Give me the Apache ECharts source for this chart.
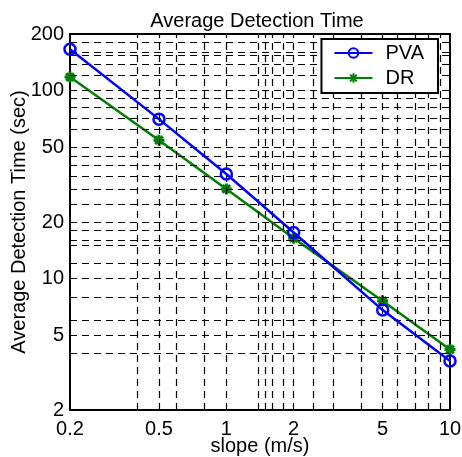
<!DOCTYPE html>
<html>
<head>
<meta charset="utf-8">
<script src="https://cdn.jsdelivr.net/npm/echarts@6/dist/echarts.min.js"></script>
<style>html,body{margin:0;padding:0;background:#fff}#c{width:462px;height:457px}</style>
</head>
<body>
<div id="c"></div>
<script>
var slopes = [0.2, 0.5, 1, 2, 5, 10];
var pvaTimes = [166, 70.5, 36, 17.6, 6.8, 3.65];
var drTimes = [118, 54.5, 30, 16.4, 7.6, 4.2];
var xTickLabels = [0.2, 0.5, 1, 2, 5, 10];
var yTickLabels = [2, 5, 10, 20, 50, 100, 200];
var xGridValues = [0.4, 0.5, 0.6, 0.8, 1, 1.39, 1.49, 1.6, 1.79, 2, 2.44, 3, 4, 5, 5.8, 7, 8, 9];
var yGridValues = [4, 5, 6, 8, 10, 12, 15, 16, 18, 20, 25, 30, 35, 40, 45, 50, 62, 71, 82, 91, 100, 121, 138, 155, 160, 181];

var FONT = 'Liberation Sans';
var chart = echarts.init(document.getElementById('c'), null, {renderer: 'canvas'});
var gridLine = {type: [7, 5], color: '#000', width: 1.2, opacity: 1};
var gridMarks = [];
xGridValues.forEach(function (v) { gridMarks.push({xAxis: v}); });
yGridValues.forEach(function (v) { gridMarks.push({yAxis: v}); });

var asterisk = 'path://M5,0L5,10M0,5L10,5M1.5,1.5L8.5,8.5M8.5,1.5L1.5,8.5';

function fmt(v) { return String(Math.round(v * 10) / 10); }

chart.setOption({
  animation: false,
  backgroundColor: '#fff',
  title: {
    text: 'Average Detection Time',
    left: 252, top: 6, textAlign: 'center',
    textStyle: {fontFamily: FONT, fontSize: 20, fontWeight: 'normal', color: '#000'}
  },
  grid: {left: 70, right: 12, top: 34, bottom: 47, containLabel: false, outerBoundsMode: 'none',
    show: true, borderColor: '#000', borderWidth: 2, backgroundColor: 'transparent'},
  legend: {
    right: 24, top: 39, z: 20,
    orient: 'vertical',
    itemWidth: 38, itemHeight: 12, itemGap: 5,
    padding: [4, 14, 5, 12],
    backgroundColor: '#fff', borderColor: '#000', borderWidth: 2,
    textStyle: {fontFamily: FONT, fontSize: 20, color: '#000', padding: [0, 0, 0, 8]},
    data: ['PVA', 'DR']
  },
  xAxis: {
    type: 'log', logBase: 10, min: 0.2, max: 10,
    name: 'slope (m/s)', nameLocation: 'middle', nameGap: 26, nameMoveOverlap: false,
    nameTextStyle: {fontFamily: FONT, fontSize: 20, color: '#000'},
    axisLine: {show: true, lineStyle: {color: '#000', width: 2}},
    axisTick: {show: true, inside: true, length: 5, customValues: xTickLabels, lineStyle: {color: '#000'}},
    axisLabel: {customValues: xTickLabels, fontFamily: FONT, fontSize: 20, color: '#000', margin: 9, formatter: fmt},
    splitLine: {show: false}, minorTick: {show: false}
  },
  yAxis: {
    type: 'log', logBase: 10, min: 2, max: 200,
    name: 'Average Detection Time (sec)', nameLocation: 'middle', nameGap: 41, nameMoveOverlap: false,
    nameTextStyle: {fontFamily: FONT, fontSize: 20, color: '#000'},
    axisLine: {show: true, lineStyle: {color: '#000', width: 2}},
    axisTick: {show: true, inside: true, length: 5, customValues: yTickLabels, lineStyle: {color: '#000'}},
    axisLabel: {customValues: yTickLabels, fontFamily: FONT, fontSize: 20, color: '#000', margin: 6, formatter: fmt},
    splitLine: {show: false}, minorTick: {show: false}
  },
  series: [
    {
      name: 'grid', type: 'line', data: [], silent: true, z: 1,
      markLine: {silent: true, symbol: 'none', label: {show: false}, lineStyle: gridLine, emphasis: {disabled: true}, data: gridMarks, animation: false}
    },
    {
      name: 'PVA', type: 'line',
      data: slopes.map(function (s, i) { return [s, pvaTimes[i]]; }),
      symbol: 'circle', symbolSize: 11, z: 5,
      lineStyle: {color: '#0000ff', width: 2.5},
      itemStyle: {color: 'rgba(255,255,255,0)', borderColor: '#0000ff', borderWidth: 2.5}
    },
    {
      name: 'DR', type: 'line',
      data: slopes.map(function (s, i) { return [s, drTimes[i]]; }),
      symbol: asterisk, symbolSize: 11, z: 4,
      lineStyle: {color: '#008000', width: 2.5},
      itemStyle: {color: '#008000', borderColor: '#008000', borderWidth: 3}
    }
  ]
});
</script>
</body>
</html>
